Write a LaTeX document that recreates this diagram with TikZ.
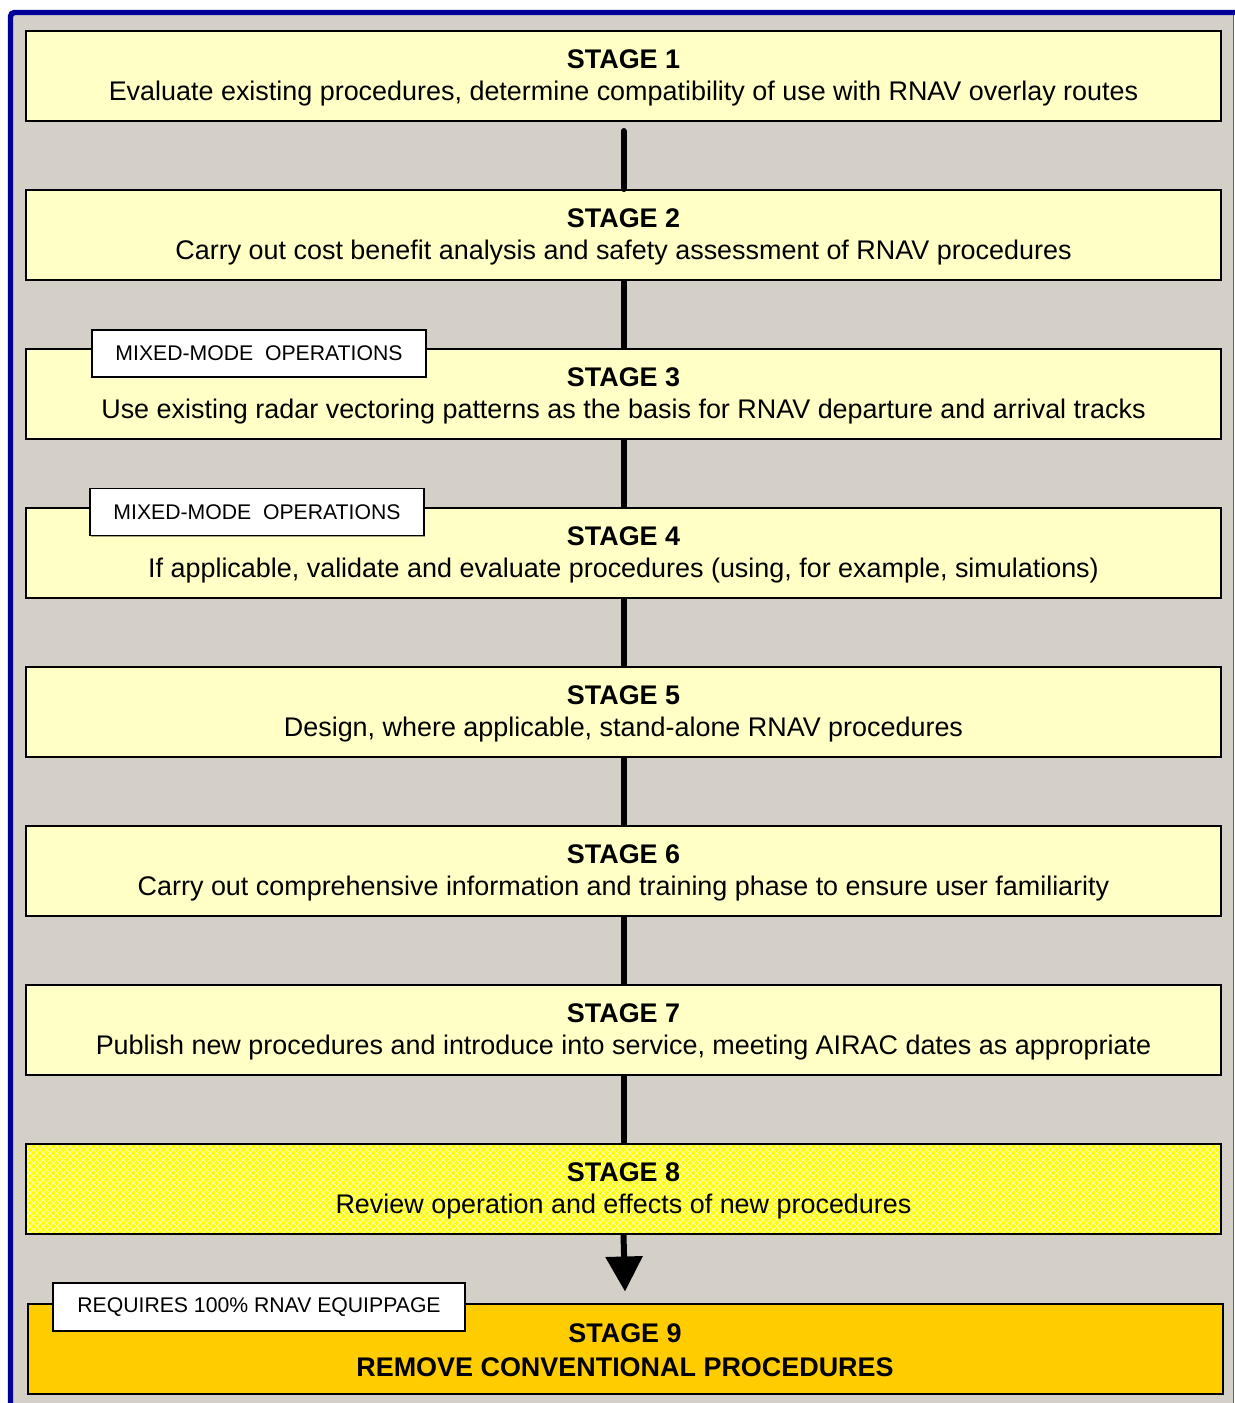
\documentclass[tikz,border=0pt]{standalone}
\usepackage{fontspec}
\setmainfont{Liberation Sans}
\usetikzlibrary{arrows.meta,patterns.meta,shadows}

\definecolor{panelgray}{HTML}{D4D0C8}
\definecolor{framenavy}{HTML}{000099}
\definecolor{frameedge}{HTML}{5A5AA8}
\definecolor{paleyellow}{HTML}{FFFFC6}
\definecolor{brightyellow}{HTML}{FFFF00}
\definecolor{meshwhite}{HTML}{FFFFC0}
\definecolor{goldfill}{HTML}{FFCC00}

% light diagonal mesh laid over the bright yellow box
\tikzdeclarepattern{
  name=whitemesh,
  type=uncolored,
  bottom left={(-0.1pt,-0.1pt)},
  top right={(5.1pt,5.1pt)},
  tile size={(5pt,5pt)},
  code={
    \draw[line width=0.55pt] (0pt,0pt) -- (5pt,5pt);
    \draw[line width=0.55pt] (0pt,5pt) -- (5pt,0pt);
  }
}

\begin{document}
\begin{tikzpicture}[x=0.75pt,y=-0.75pt,
  boxshadow/.style={drop shadow={shadow xshift=1.1pt,shadow yshift=-1.1pt,fill=black,opacity=0.35}},
  stagebox/.style={draw=black, line width=1.5pt, minimum width=896.25pt,
    minimum height=67.5pt, inner sep=0pt, fill=paleyellow, boxshadow},
  stagehead/.style={anchor=base, inner sep=0pt, font=\fontsize{20.2pt}{23pt}\selectfont\bfseries},
  stagetext/.style={anchor=base, inner sep=0pt, font=\fontsize{20.2pt}{23pt}\selectfont},
  tagbox/.style={draw=black, line width=1.1pt, fill=white, inner sep=0pt,
    minimum height=35.25pt, font=\fontsize{15.9pt}{18pt}\selectfont, boxshadow},
  conn/.style={line width=4.5pt, draw=black}
]
\useasboundingbox (0,0) rectangle (1235,1403);

% panel with navy frame
\fill[panelgray] (10.5,12.5) rectangle (1234,1403);
\draw[frameedge, line width=1.1pt] (1233.5,12.5) -- (1233.5,1403);
\draw[framenavy, line width=4.1pt, rounded corners=3pt] (10.5,1403) -- (10.5,12.5) -- (1235,12.5);

% stage boxes
\node[stagebox] (s1) at (623.5,76) {};
\node[stagebox] (s2) at (623.5,235) {};
\node[stagebox] (s3) at (623.5,394) {};
\node[stagebox] (s4) at (623.5,553) {};
\node[stagebox] (s5) at (623.5,712) {};
\node[stagebox] (s6) at (623.5,871) {};
\node[stagebox] (s7) at (623.5,1030) {};
\node[stagebox, fill=brightyellow,
  postaction={pattern=whitemesh, pattern color=meshwhite},
  postaction={draw=black, line width=1.5pt}] (s8) at (623.5,1189) {};
\node[stagebox, fill=goldfill] (s9) at (625,1348.5) {};

% connectors
\draw[conn, line cap=round] ([yshift=-6.75pt]s1.south) -- (s2.north);
\draw[conn] (s2.south) -- (s3.north);
\draw[conn] (s3.south) -- (s4.north);
\draw[conn] (s4.south) -- (s5.north);
\draw[conn] (s5.south) -- (s6.north);
\draw[conn] (s6.south) -- (s7.north);
\draw[conn] (s7.south) -- (s8.north);
\draw[conn, -{Triangle[length=26.25pt,width=27pt]}] (s8.south) -- ([yshift=8.25pt]s9.north);

% stage titles and descriptions
\node[stagehead] (h1) at (623.5,68.5) {STAGE 1};
\node[stagetext] (d1) at (623.5,100.5) {Evaluate existing procedures, determine compatibility of use with RNAV overlay routes};
\node[stagehead] (h2) at (623.5,227.5) {STAGE 2};
\node[stagetext] (d2) at (623.5,259.5) {Carry out cost benefit analysis and safety assessment of RNAV procedures};
\node[stagehead] (h3) at (623.5,386.5) {STAGE 3};
\node[stagetext] (d3) at (623.5,418.5) {Use existing radar vectoring patterns as the basis for RNAV departure and arrival tracks};
\node[stagehead] (h4) at (623.5,545.5) {STAGE 4};
\node[stagetext] (d4) at (623.5,577.5) {If applicable, validate and evaluate procedures (using, for example, simulations)};
\node[stagehead] (h5) at (623.5,704.5) {STAGE 5};
\node[stagetext] (d5) at (623.5,736.5) {Design, where applicable, stand-alone RNAV procedures};
\node[stagehead] (h6) at (623.5,863.5) {STAGE 6};
\node[stagetext] (d6) at (623.5,895.5) {Carry out comprehensive information and training phase to ensure user familiarity};
\node[stagehead] (h7) at (623.5,1022.5) {STAGE 7};
\node[stagetext] (d7) at (623.5,1054.5) {Publish new procedures and introduce into service, meeting AIRAC dates as appropriate};
\node[stagehead] (h8) at (623.5,1181.5) {STAGE 8};
\node[stagetext] (d8) at (623.5,1213.5) {Review operation and effects of new procedures};
\node[stagehead] (h9) at (625,1342) {STAGE 9};
\node[stagehead] (d9) at (625,1376) {REMOVE CONVENTIONAL PROCEDURES};

% tags on the upper-left corners
\node[tagbox, minimum width=250.5pt] (m3) at (259,353.5) {MIXED-MODE\ \ OPERATIONS};
\node[tagbox, minimum width=250.5pt] (m4) at (257,512) {MIXED-MODE\ \ OPERATIONS};
\node[tagbox, minimum width=309pt, minimum height=36pt] (m9) at (259,1307) {REQUIRES 100\% RNAV EQUIPPAGE};
\end{tikzpicture}
\end{document}
